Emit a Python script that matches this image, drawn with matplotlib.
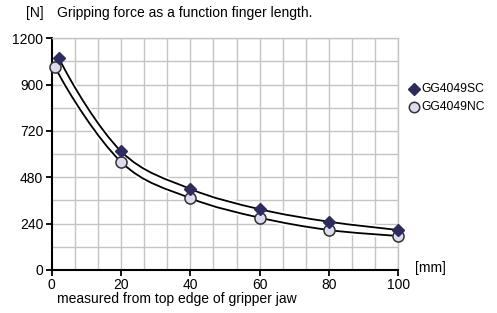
import matplotlib
matplotlib.use("Agg")
import matplotlib.pyplot as plt
from matplotlib.path import Path
from matplotlib.patches import PathPatch
import numpy as np

plt.rcParams['font.family'] = ['Liberation Sans', 'DejaVu Sans']

# data
sc_x = [2, 20, 40, 60, 80, 100]
sc_y = [1100, 615, 420, 315, 250, 207]
nc_x = [1, 20, 40, 60, 80, 100]
nc_y = [1050, 560, 372, 271, 207, 176]

x_ticks = [0, 20, 40, 60, 80, 100]
y_ticks = [0, 240, 480, 720, 960, 1200]
y_tick_labels = ['0', '240', '480', '720', '900', '1200']


def smooth_path(xs, ys, start_dx=-5, start_dy=350):
    # Catmull-Rom segments turned into cubic bezier codes
    pts = list(zip(xs, ys))
    verts = [pts[0]]
    codes = [Path.MOVETO]
    n = len(pts)
    for i in range(n - 1):
        if i > 0:
            p0 = pts[i - 1]
        else:
            p0 = (pts[0][0] + start_dx, pts[0][1] + start_dy)
        p1 = pts[i]
        p2 = pts[i + 1]
        p3 = pts[i + 2] if i + 2 < n else pts[i + 1]
        c1 = (p1[0] + (p2[0] - p0[0]) / 6, p1[1] + (p2[1] - p0[1]) / 6)
        c2 = (p2[0] - (p3[0] - p1[0]) / 6, p2[1] - (p3[1] - p1[1]) / 6)
        verts += [c1, c2, p2]
        codes += [Path.CURVE4] * 3
    return Path(verts, codes)


fig = plt.figure(figsize=(4.97, 3.13), dpi=100)
ax = fig.add_axes([0.104, 0.1374, 0.6974, 0.7402])

ax.set_xlim(0, 100)
ax.set_ylim(0, 1200)

# grid
for gx in np.linspace(0, 100, 16)[1:]:
    ax.axvline(gx, color='#c4c4c4', lw=1, zorder=0)
for gy in range(120, 1201, 120):
    ax.axhline(gy, color='#c4c4c4', lw=1, zorder=0)

# white band between the curves
upper = smooth_path(sc_x, sc_y)
lo = smooth_path(nc_x, nc_y)
lo_rev = lo.vertices[::-1]
band = Path(np.vstack([upper.vertices, lo_rev, upper.vertices[:1]]),
            list(upper.codes) + [Path.LINETO] + [Path.CURVE4] * (len(lo_rev) - 1)
            + [Path.CLOSEPOLY])
ax.add_patch(PathPatch(band, facecolor='white', edgecolor='none', zorder=1))

for xs, ys in [(sc_x, sc_y), (nc_x, nc_y)]:
    ax.add_patch(PathPatch(smooth_path(xs, ys), facecolor='none',
                           edgecolor='white', lw=4, zorder=2))
    ax.add_patch(PathPatch(smooth_path(xs, ys), facecolor='none',
                           edgecolor='black', lw=1.3, zorder=3))

ax.plot(sc_x, sc_y, 'D', color='#2e2b5f', markersize=6.5, clip_on=False, zorder=5)
ax.plot(nc_x, nc_y, 'o', markerfacecolor='#dcdcec', markeredgecolor='#333333',
        markeredgewidth=1.1, markersize=8, clip_on=False, zorder=4)

for side in ['top', 'right']:
    ax.spines[side].set_color('#c4c4c4')
    ax.spines[side].set_linewidth(1)
for side in ['left', 'bottom']:
    ax.spines[side].set_linewidth(1.5)

ax.set_xticks(x_ticks)
ax.set_yticks(y_ticks)
ax.set_yticklabels(y_tick_labels)
ax.tick_params(direction='out', length=4, width=1.3, labelsize=10,
               colors='black', pad=2)

fig.text(26 / 497, 1 - 13 / 313, '[N]', fontsize=10, va='center', ha='left')
fig.text(57 / 497, 1 - 13 / 313, 'Gripping force as a function finger length.',
         fontsize=10, va='center', ha='left')
fig.text(415 / 497, 1 - 268 / 313, '[mm]', fontsize=10, va='center', ha='left')
fig.text(57 / 497, 1 - 299 / 313, 'measured from top edge of gripper jaw',
         fontsize=10, va='center', ha='left')

# legend
fig.lines.append(plt.Line2D([414 / 497], [1 - 89 / 313], marker='D', color='#2e2b5f',
                            markersize=6, transform=fig.transFigure))
fig.lines.append(plt.Line2D([414 / 497], [1 - 107 / 313], marker='o',
                            markerfacecolor='#dcdcec', markeredgecolor='#333333',
                            markeredgewidth=1.1, markersize=7.5, transform=fig.transFigure))
fig.text(421 / 497, 1 - 89 / 313, 'GG4049SC', fontsize=8.7, va='center', ha='left')
fig.text(421 / 497, 1 - 107 / 313, 'GG4049NC', fontsize=8.7, va='center', ha='left')

fig.savefig('out.png', dpi=100, facecolor='white')
